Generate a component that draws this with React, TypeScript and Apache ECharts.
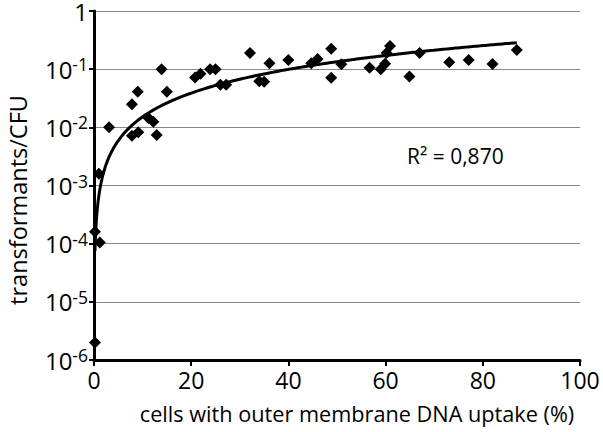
import React, { useEffect, useRef } from "react";
import * as echarts from "echarts";

// percent of cells with outer membrane DNA uptake
const xValues = [
  0.2, 0.2, 1.2, 1.0, 3.1, 7.8, 9.0, 7.8, 9.1, 11.2, 12.2, 12.9, 13.9, 15.0,
  20.8, 21.9, 23.9, 25.0, 26.0, 27.2, 32.1, 34.0, 35.0, 36.1, 40.0, 44.7,
  46.0, 48.8, 48.8, 50.9, 56.7, 59.0, 59.9, 60.2, 60.9, 64.9, 67.0, 73.1,
  77.1, 82.0, 87.0,
];
// transformants per CFU
const yValues = [
  2e-6, 1.6e-4, 1.05e-4, 1.6e-3, 0.010, 0.025, 0.041, 0.0072, 0.0082, 0.0144,
  0.0125, 0.0074, 0.100, 0.041, 0.072, 0.083, 0.100, 0.100, 0.054, 0.054,
  0.19, 0.062, 0.061, 0.126, 0.144, 0.126, 0.150, 0.225, 0.071, 0.122, 0.106,
  0.100, 0.124, 0.19, 0.25, 0.075, 0.19, 0.131, 0.144, 0.123, 0.214,
];
// power trendline y = A * x^B, parameters
const trendA = 6.67e-4;
const trendB = 1.356;

const xTicks = [0, 20, 40, 60, 80, 100];
const yDecades = [-6, -5, -4, -3, -2, -1, 0];
const rSquaredLabel = "R² = 0,870";
const xTitle = "cells with outer membrane DNA uptake (%)";
const yTitle = "transformants/CFU";

const FONT = "Open Sans";

export default function App() {
  const ref = useRef<HTMLDivElement>(null);
  useEffect(() => {
    const chart = echarts.init(ref.current!, null, { renderer: "svg" });

    const xmin = Math.min(...xValues.filter((x) => x > 0));
    const xmax = Math.max(...xValues);
    const xs: number[] = [];
    const n = 200;
    for (let i = 0; i <= n; i++) {
      xs.push(xmin * Math.pow(xmax / xmin, i / n));
      xs.push(xmin + ((xmax - xmin) * i) / n);
    }
    xs.sort((p, q) => p - q);
    const trend = xs.map((x) => [x, trendA * Math.pow(x, trendB)]);

    const scatterData = xValues.map((x, i) => [x, yValues[i]]);

    chart.setOption({
      animation: false,
      grid: {
        left: 94,
        right: 23,
        top: 11,
        bottom: 72,
        containLabel: false,
        outerBoundsMode: "none",
      },
      xAxis: {
        type: "value",
        min: xTicks[0],
        max: xTicks[xTicks.length - 1],
        interval: 20,
        axisLine: { show: true, lineStyle: { color: "#000", width: 3 } },
        axisTick: { show: true, length: 6, lineStyle: { color: "#000", width: 2 } },
        axisLabel: { fontFamily: FONT, fontSize: 23, color: "#000", margin: 8 },
        splitLine: { show: false },
      },
      yAxis: {
        type: "log",
        logBase: 10,
        min: Math.pow(10, yDecades[0]),
        max: Math.pow(10, yDecades[yDecades.length - 1]),
        axisLine: { show: true, lineStyle: { color: "#000", width: 3 } },
        axisTick: { show: true, length: 5, lineStyle: { color: "#000", width: 2 } },
        axisLabel: {
          margin: 6,
          formatter: (v: number) => {
            const e = Math.round(Math.log10(v));
            if (e === 0) return "{b|1}";
            return "{b|10}{s|" + e + "}";
          },
          rich: {
            b: { fontFamily: FONT, fontSize: 24, color: "#000", lineHeight: 28 },
            s: { fontFamily: FONT, fontSize: 17.5, color: "#000", verticalAlign: "top", lineHeight: 20 },
          },
        },
        splitLine: { show: true, lineStyle: { color: "#888", width: 1 } },
      },
      series: [
        {
          type: "line",
          data: trend,
          showSymbol: false,
          smooth: false,
          lineStyle: { color: "#000", width: 3 },
          z: 2,
        },
        {
          type: "scatter",
          data: scatterData,
          symbol: "diamond",
          symbolSize: 12,
          itemStyle: { color: "#000", opacity: 1 },
          z: 3,
        },
      ],
      graphic: [
        {
          type: "text",
          left: 407,
          top: 145,
          style: { text: rSquaredLabel, fontFamily: FONT, fontSize: 21, fill: "#000" },
        },
        {
          type: "text",
          x: 357,
          y: 413,
          style: {
            text: xTitle,
            fontFamily: FONT,
            fontSize: 21.7,
            fill: "#000",
            textAlign: "center",
            textVerticalAlign: "middle",
          },
        },
        {
          type: "text",
          x: 18,
          y: 200,
          rotation: Math.PI / 2,
          style: {
            text: yTitle,
            fontFamily: FONT,
            fontSize: 23.5,
            fill: "#000",
            textAlign: "center",
            textVerticalAlign: "middle",
          },
        },
      ],
    });
    return () => chart.dispose();
  }, []);
  return (
    <div
      ref={ref}
      style={{ position: "fixed", left: 0, top: 0, width: 603, height: 432, background: "#fff" }}
    />
  );
}
